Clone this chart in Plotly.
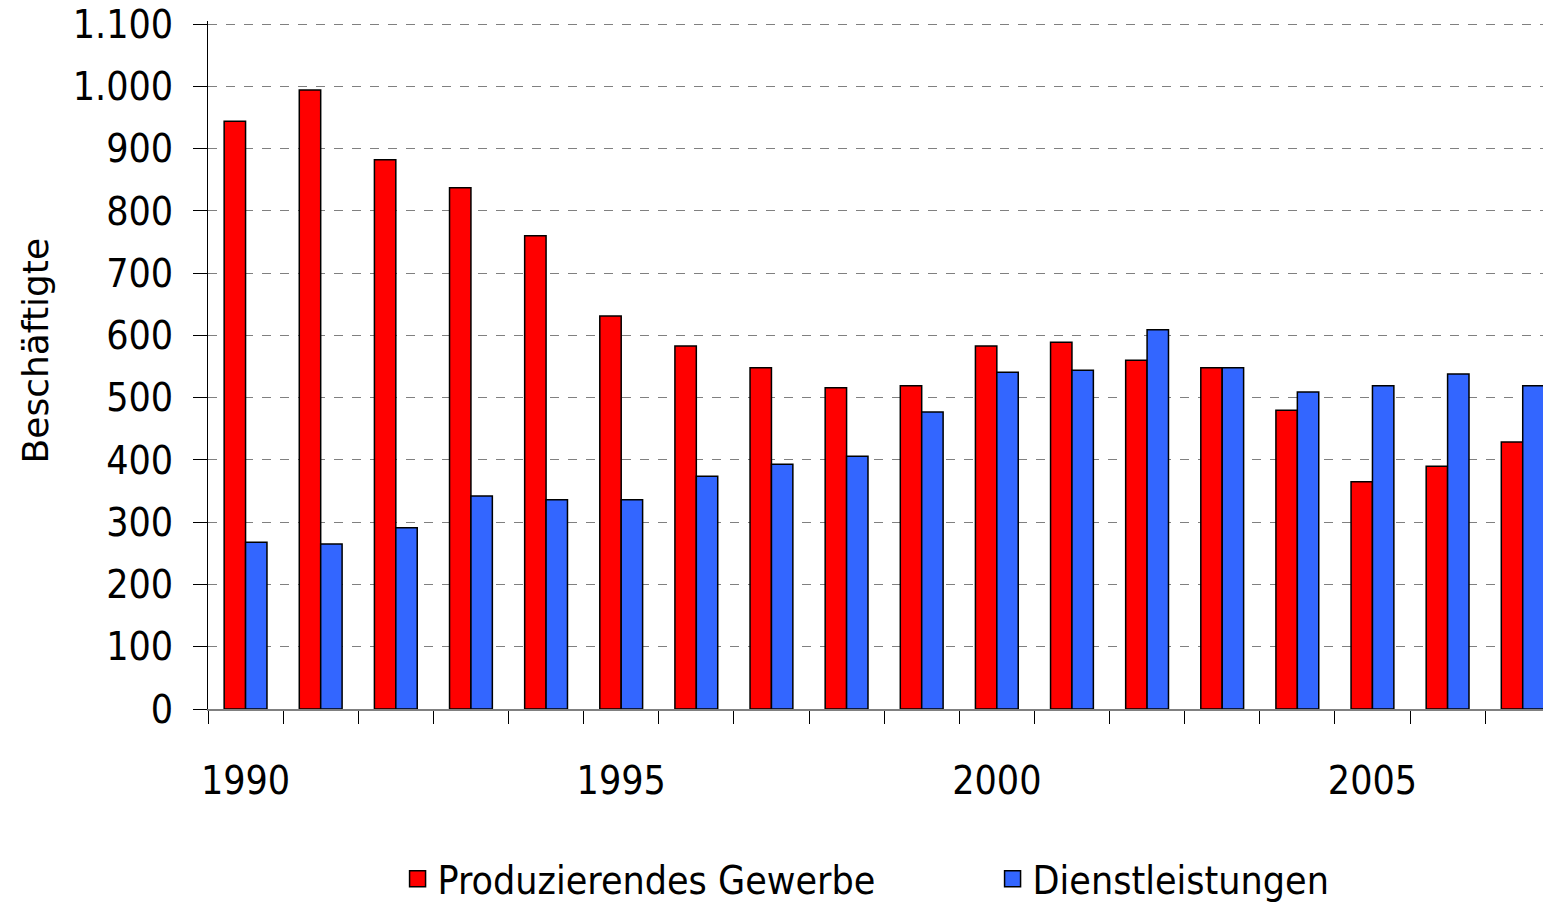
import plotly.graph_objects as go

years = list(range(1990, 2008))
produzierendes = [944, 994, 882, 837, 760, 631, 583, 548, 516, 519, 583, 589, 560, 548, 480, 365, 390, 429]
dienstleistungen = [268, 265, 291, 342, 336, 336, 374, 393, 406, 477, 541, 544, 609, 548, 509, 519, 538, 519]
y_ticks = list(range(0, 1101, 100))
y_ticktext = ["0", "100", "200", "300", "400", "500", "600", "700", "800", "900", "1.000", "1.100"]
x_labels = [1990, 1995, 2000, 2005]
series_names = ["Produzierendes Gewerbe", "Dienstleistungen"]
series_colors = ["#FF0000", "#3366FF"]
y_title = "Beschäftigte"

tick_font = dict(family="DejaVu Sans Condensed, DejaVu Sans", size=39, color="black")

fig = go.Figure()
for vals, name, col in zip([produzierendes, dienstleistungen], series_names, series_colors):
    fig.add_trace(go.Bar(x=years, y=vals, name=name, showlegend=False,
                         marker=dict(color=col, line=dict(color="black", width=1.5))))
# legend entries with larger square symbols
for name, col in zip(series_names, series_colors):
    fig.add_trace(go.Scatter(x=[None], y=[None], mode="markers", name=name,
                             marker=dict(symbol="square", size=16, color=col,
                                         line=dict(color="black", width=1.5))))

fig.update_layout(
    width=1543, height=905,
    margin=dict(l=208, r=0, t=21, b=196, autoexpand=False),
    plot_bgcolor="white", paper_bgcolor="white",
    barmode="group", bargap=0.43, bargroupgap=0,
    showlegend=True,
    legend=dict(orientation="h", x=0.142, xanchor="left", yref="container",
                y=(905 - 879) / 905, yanchor="middle",
                font=dict(family="DejaVu Sans Condensed, DejaVu Sans", size=39, color="black"),
                itemsizing="trace", entrywidth=550, entrywidthmode="pixels"),
    annotations=[dict(text=y_title, textangle=-90, xref="paper", yref="paper",
                      x=(35 - 208) / 1335, y=(709 - 352) / 685, xanchor="center", yanchor="middle",
                      showarrow=False, font=dict(family="DejaVu Sans", size=36, color="black"))],
)

fig.update_xaxes(
    range=[1989.5, 2007.27], type="linear",
    tickmode="array", tickvals=x_labels, ticktext=[str(v) for v in x_labels],
    ticks="", tickfont=tick_font, ticklabelstandoff=36,
    showgrid=False, zeroline=False,
    showline=True, linecolor="#808080", linewidth=1.5,
    minor=dict(tick0=1989.5, dtick=1, ticks="outside", ticklen=13, tickcolor="black",
               tickwidth=1, showgrid=False),
)

fig.update_yaxes(
    range=[0, 1105], tickmode="array", tickvals=y_ticks, ticktext=y_ticktext,
    ticks="outside", ticklen=14, tickcolor="black", tickwidth=1,
    tickfont=tick_font, ticklabelstandoff=12,
    showgrid=True, gridcolor="#808080", gridwidth=1.2, griddash="dash",
    zeroline=False, showline=True, linecolor="black", linewidth=1,
)

fig.write_html("out.html", config={"displayModeBar": False},
               post_script="document.body.style.margin='0';document.body.style.overflow='hidden';")
